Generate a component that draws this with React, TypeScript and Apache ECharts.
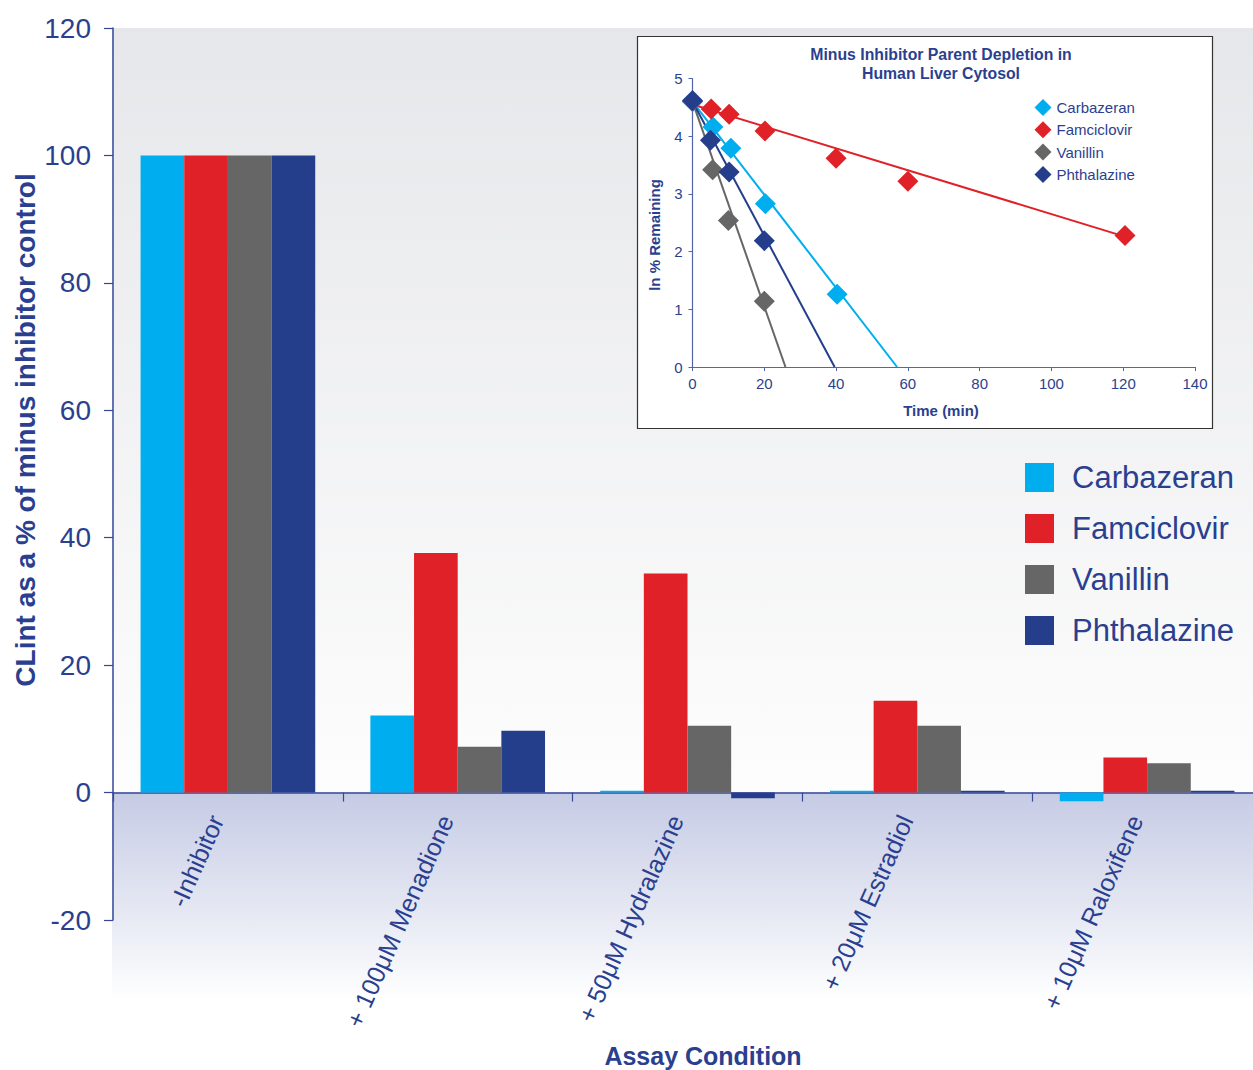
import React, { useEffect, useRef } from "react";
import * as echarts from "echarts";

// ---------- Main bar chart data ----------
const categories = [
  "-Inhibitor",
  "+ 100μM Menadione",
  "+ 50μM Hydralazine",
  "+ 20μM Estradiol",
  "+ 10μM Raloxifene",
];
const seriesNames = ["Carbazeran", "Famciclovir", "Vanillin", "Phthalazine"];
const carbazeranPct = [100, 12.1, 0.3, 0.3, -1.35];
const famciclovirPct = [100, 37.6, 34.4, 14.4, 5.5];
const vanillinPct = [100, 7.2, 10.5, 10.5, 4.6];
const phthalazinePct = [100, 9.7, -0.9, 0.3, 0.3];
const yMin = -20;
const yMax = 120;
const yStep = 20;

// ---------- Inset scatter data (ln % remaining vs time) ----------
const carbazeranTime = [0, 5.7, 10.7, 20.3, 40.3];
const carbazeranLn = [4.6, 4.16, 3.79, 2.83, 1.26];
const famciclovirTime = [5.2, 10.2, 20.2, 40, 60, 120.5];
const famciclovirLn = [4.47, 4.38, 4.09, 3.62, 3.22, 2.28];
const vanillinTime = [0, 5.6, 10, 20];
const vanillinLn = [4.6, 3.42, 2.54, 1.14];
const phthalazineTime = [0, 5, 10.2, 20];
const phthalazineLn = [4.62, 3.93, 3.38, 2.19];
// fitted lines: [start time, start ln], [end time, end ln]
const carbazeranFit = [[0, 4.6], [57, 0]];
const famciclovirFit = [[0, 4.55], [120.5, 2.26]];
const vanillinFit = [[0, 4.6], [25.9, 0]];
const phthalazineFit = [[0, 4.6], [39.6, 0]];

const colors = ["#00aeef", "#e02127", "#666666", "#243e8b"];
const NAVY = "#2b3f8f";
const FONT = "'Liberation Sans', Arial, Helvetica, sans-serif";

const CHART_W = 1262;
const CHART_H = 1070;
const GRID_LEFT = 113;
const GRID_TOP = 28;
const GRID_BOTTOM = 150;
const PLOT_H = CHART_H - GRID_TOP - GRID_BOTTOM;
// distance from the zero line to the bottom of the plot (labels sit under the zero line)
const ZERO_TO_BOTTOM = (PLOT_H * (0 - yMin)) / (yMax - yMin);

const zip = (a: number[], b: number[]) => a.map((v, i) => [v, b[i]]);

export default function App() {
  const ref = useRef<HTMLDivElement>(null);

  useEffect(() => {
    if (!ref.current) return;
    const chart = echarts.init(ref.current, null, { renderer: "svg" });

    const barData = [carbazeranPct, famciclovirPct, vanillinPct, phthalazinePct];
    const scatterData = [
      zip(carbazeranTime, carbazeranLn),
      zip(famciclovirTime, famciclovirLn),
      zip(vanillinTime, vanillinLn),
      zip(phthalazineTime, phthalazineLn),
    ];
    const fits = [carbazeranFit, famciclovirFit, vanillinFit, phthalazineFit];

    const option: any = {
      animation: false,
      textStyle: { fontFamily: FONT },
      grid: [
        {
          left: GRID_LEFT,
          top: GRID_TOP,
          right: 0,
          bottom: GRID_BOTTOM,
          containLabel: false,
          outerBoundsMode: "none",
        },
        {
          left: 692.5,
          top: 78.5,
          width: 502.5,
          height: 288.5,
          containLabel: false,
          outerBoundsMode: "none",
        },
      ],
      legend: [
        {
          data: seriesNames,
          orient: "vertical",
          left: 1020,
          top: 457,
          itemWidth: 29,
          itemHeight: 29,
          itemGap: 20,
          icon: "rect",
          textStyle: { fontSize: 31, color: NAVY, fontFamily: FONT, padding: [0, 0, 0, 13] },
          selectedMode: false,
        },
        {
          data: seriesNames,
          orient: "vertical",
          left: 1029.5,
          top: 94,
          itemWidth: 17,
          itemHeight: 17,
          itemGap: 5.3,
          icon: "diamond",
          textStyle: { fontSize: 15, color: NAVY, fontFamily: FONT },
          selectedMode: false,
        },
      ],
      xAxis: [
        {
          type: "category",
          gridIndex: 0,
          data: categories,
          axisLine: { show: true, onZero: true, lineStyle: { color: "#34489a", width: 1.5 } },
          axisTick: { show: true, length: 9, lineStyle: { color: "#34489a", width: 1.2 } },
          axisLabel: { show: false },
          splitLine: { show: false },
        },
        {
          type: "value",
          gridIndex: 1,
          min: 0,
          max: 140,
          interval: 20,
          axisLine: { show: true, onZero: false, lineStyle: { color: "#5565aa", width: 1.2 } },
          axisTick: { show: true, length: 4, lineStyle: { color: "#5565aa" } },
          axisLabel: { fontSize: 15, color: NAVY, margin: 9, fontFamily: FONT },
          splitLine: { show: false },
        },
        {
          // label-only axis placed on the zero line
          type: "category",
          gridIndex: 0,
          position: "bottom",
          offset: -ZERO_TO_BOTTOM,
          data: categories,
          axisLine: { show: false, onZero: false },
          axisTick: { show: false },
          axisLabel: {
            rotate: 66,
            interval: 0,
            margin: 29,
            verticalAlign: "bottom",
            fontSize: 25,
            color: NAVY,
            fontFamily: FONT,
          },
          splitLine: { show: false },
        },
      ],
      yAxis: [
        {
          type: "value",
          gridIndex: 0,
          min: yMin,
          max: yMax,
          interval: yStep,
          axisLine: { show: true, lineStyle: { color: "#34489a", width: 1.5 } },
          axisTick: { show: true, length: 9, lineStyle: { color: "#34489a", width: 1.2 } },
          axisLabel: { fontSize: 28, color: NAVY, margin: 22, fontFamily: FONT },
          splitLine: { show: false },
        },
        {
          type: "value",
          gridIndex: 1,
          min: 0,
          max: 5,
          interval: 1,
          axisLine: { show: true, onZero: false, lineStyle: { color: "#5565aa", width: 1.2 } },
          axisTick: { show: true, length: 4, lineStyle: { color: "#5565aa" } },
          axisLabel: { fontSize: 15, color: NAVY, margin: 10, fontFamily: FONT },
          splitLine: { show: false },
        },
      ],
      series: [
        ...seriesNames.map((name, i) => ({
          name,
          type: "bar",
          xAxisIndex: 0,
          yAxisIndex: 0,
          data: barData[i],
          barGap: "0%",
          barCategoryGap: "24%",
          itemStyle: { color: colors[i] },
        })),
        ...seriesNames.map((name, i) => ({
          name,
          type: "line",
          xAxisIndex: 1,
          yAxisIndex: 1,
          data: fits[i],
          symbol: "none",
          lineStyle: { color: colors[i], width: 2 },
          itemStyle: { color: colors[i] },
          z: 3,
        })),
        ...seriesNames.map((name, i) => ({
          name,
          type: "scatter",
          xAxisIndex: 1,
          yAxisIndex: 1,
          data: scatterData[i],
          symbol: "diamond",
          symbolSize: 21,
          itemStyle: { color: colors[i], opacity: 1 },
          z: 4 + i,
        })),
      ],
    };

    chart.setOption(option);

    const y0 = chart.convertToPixel({ yAxisIndex: 0 } as any, 0) as number;
    const yTop = chart.convertToPixel({ yAxisIndex: 0 } as any, yMax) as number;
    const bgRight = CHART_W;

    const txt = (x: number, y: number, text: string, font: string, extra: any = {}) => ({
      type: "text",
      x,
      y,
      z: 10,
      ...extra,
      style: {
        text,
        font,
        fill: NAVY,
        align: "center",
        verticalAlign: "middle",
        textAlign: "center",
        textVerticalAlign: "middle",
        ...(extra.style || {}),
      },
    });

    chart.setOption({
      graphic: [
        {
          type: "rect",
          z: -10,
          shape: { x: GRID_LEFT - 1, y: yTop, width: bgRight - GRID_LEFT + 1, height: y0 - yTop },
          style: {
            fill: new echarts.graphic.LinearGradient(0, 0, 0, 1, [
              { offset: 0, color: "#e6e7ea" },
              { offset: 1, color: "#fdfdfd" },
            ]),
          },
        },
        {
          type: "rect",
          z: -10,
          shape: { x: GRID_LEFT - 1, y: y0, width: bgRight - GRID_LEFT + 1, height: 1000 - y0 },
          style: {
            fill: new echarts.graphic.LinearGradient(0, 0, 0, 1, [
              { offset: 0, color: "#c6cbe5" },
              { offset: 0.55, color: "#e4e7f2" },
              { offset: 1, color: "#ffffff" },
            ]),
          },
        },
        {
          type: "rect",
          z: -5,
          shape: { x: 637.5, y: 36.5, width: 575, height: 392 },
          style: { fill: "#ffffff", stroke: "#333333", lineWidth: 1.2 },
        },
        txt(25, 430, "CLint as a % of minus inhibitor control", `bold 28px ${FONT}`, {
          rotation: Math.PI / 2,
        }),
        txt(703, 1056, "Assay Condition", `bold 25px ${FONT}`),
        txt(941, 64, "Minus Inhibitor Parent Depletion in\nHuman Liver Cytosol", `bold 15.8px ${FONT}`, {
          style: { lineHeight: 19 },
        }),
        txt(654, 235, "ln % Remaining", `bold 15px ${FONT}`, { rotation: Math.PI / 2 }),
        txt(941, 410, "Time (min)", `bold 15px ${FONT}`),
      ],
    });

    return () => chart.dispose();
  }, []);

  return (
    <div
      style={{
        position: "absolute",
        left: 0,
        top: 0,
        width: 1253,
        height: 1070,
        overflow: "hidden",
        background: "#ffffff",
      }}
    >
      <div ref={ref} style={{ width: CHART_W, height: CHART_H }} />
    </div>
  );
}
